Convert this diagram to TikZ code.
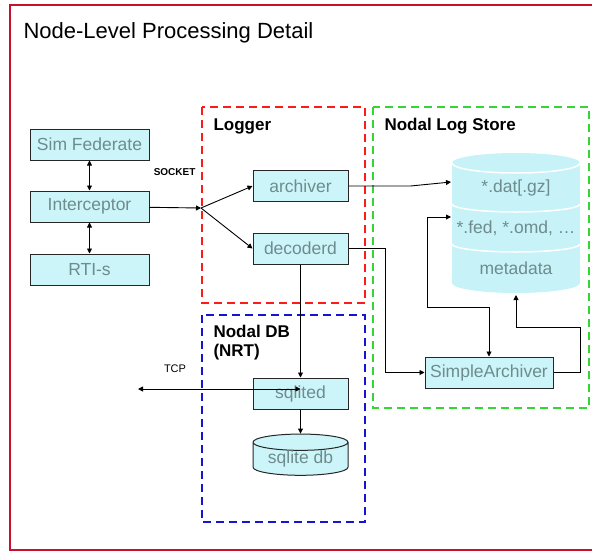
\documentclass[tikz,border=0pt]{standalone}
\usepackage{fontspec}
\setmainfont{Liberation Sans}
\usetikzlibrary{shapes.geometric,arrows.meta}
\definecolor{boxfill}{HTML}{CCF5FA}
\definecolor{boxtext}{HTML}{6E8C8E}
\definecolor{dbfill}{HTML}{C6F2F8}
\definecolor{framered}{HTML}{C8102E}
\definecolor{logred}{HTML}{FF1A1A}
\definecolor{storegreen}{HTML}{33D633}
\definecolor{dbblue}{HTML}{1414D2}
\tikzset{
  procbox/.style={draw=black!85, line width=1pt, fill=boxfill, text=boxtext, inner sep=0pt,
    minimum width=95pt, minimum height=31pt, font=\fontsize{17.5}{20}\selectfont},
  dbtext/.style={text=boxtext, font=\fontsize{17.5}{20}\selectfont},
  grouplabel/.style={anchor=west, font=\bfseries\fontsize{17}{19}\selectfont, align=left},
  groupbox/.style={line width=2.5pt, dash pattern=on 8pt off 5pt},
  seam/.style={white, line width=1.5pt},
  link/.style={line width=0.9pt, -{Triangle[length=5pt,width=5pt]}},
  twolink/.style={line width=0.9pt, {Triangle[length=5pt,width=5pt]}-{Triangle[length=5pt,width=5pt]}},
}
\begin{document}
\begin{tikzpicture}[x=1pt,y=-1pt]
      \useasboundingbox (0,0) rectangle (592,552);
      \draw[framered, line width=2pt] (10,5) rectangle (620,550);
      \node[anchor=west, font=\fontsize{22}{26}\selectfont] (title) at (20,33)
      {Node-Level Processing Detail};

      % group frames
      \draw[groupbox, storegreen] (373,107) rectangle (589,408);
      \draw[groupbox, logred] (202,107) rectangle (365,303);
      \draw[groupbox, dbblue] (202,315) rectangle (365,522);
      \node[grouplabel] (loggerlbl) at (210,126) {Logger};
      \node[grouplabel] (storelbl) at (381,126) {Nodal Log Store};
      \node[grouplabel, anchor=north west] (dblbl) at (210,322) {Nodal DB\\(NRT)};

      % federate side
      \node[procbox, minimum width=119pt] (simfed) at (89.5,144.5) {Sim Federate};
      \node[procbox, minimum width=119pt] (intercept) at (89.5,206.5) {Interceptor};
      \node[procbox, minimum width=119pt] (rtis) at (89.5,269.5) {RTI-s};
      \draw[twolink] (simfed) -- (intercept);
      \draw[twolink] (intercept) -- (rtis);

      % logger
      \node[procbox] (archiver) at (300.5,186) {archiver};
      \node[procbox] (decoderd) at (300.5,248.5) {decoderd};
      \coordinate (sock) at (201,208);
      \node[anchor=south east, font=\bfseries\fontsize{10}{12}\selectfont] (socklbl) at (199,179) {SOCKET};
      \draw[link] (intercept) -- (sock);
      \draw[link] (sock) -- (archiver.west);
      \draw[link] (sock) -- (decoderd.west);

      % log store
      \fill[dbfill] (452,163) -- (452,283) arc (180:360:64pt and 10pt)
        -- (580,163) arc (0:180:64pt and 10pt) -- cycle;
      \draw[seam] (452,163) arc (180:360:64pt and 10pt);
      \draw[seam] (452,204) arc (180:360:64pt and 8pt);
      \draw[seam] (452,244) arc (180:360:64pt and 8pt);
      \node[dbtext] (dat) at (516,188) {*.dat[.gz]};
      \node[dbtext] (fed) at (516,228) {*.fed, *.omd, \dots};
      \node[dbtext] (meta) at (516,268) {metadata};
      \coordinate (datin) at (451,182);
      \coordinate (fedin) at (451,217);
      \coordinate (metain) at (516,295);
      \node[procbox, minimum width=128pt] (simplearch) at (489,372.5) {SimpleArchiver};
      \draw[link] (archiver.east) -- ++(62,0) -- (datin);
      \draw[link] (decoderd.east) -- ++(37,0) |- (simplearch.west);
      \draw[twolink] (fedin) -| (427,307) -| (simplearch.north);
      \draw[link] (simplearch.east) -| (580,327) -| (metain);

      % nodal db
      \node[procbox] (sqlited) at (300.5,393.5) {sqlited};
      \node[cylinder, shape border rotate=90, aspect=0.25, draw=black!85, line width=1pt,
        fill=boxfill, text=boxtext, minimum width=95pt, minimum height=38pt, inner sep=0pt,
        font=\fontsize{17.5}{20}\selectfont] (sqlitedb) at (300.5,459) {sqlite db};
      \draw[link] (decoderd) -- (sqlited);
      \draw[link] (sqlited) -- (sqlitedb);
      \coordinate (tcpend) at (138,389);
      \node[font=\fontsize{11}{13}\selectfont] (tcplbl) at (175,369) {TCP};
      \draw[twolink] (tcpend) -- (tcpend -| sqlited);
    \end{tikzpicture}
\end{document}
